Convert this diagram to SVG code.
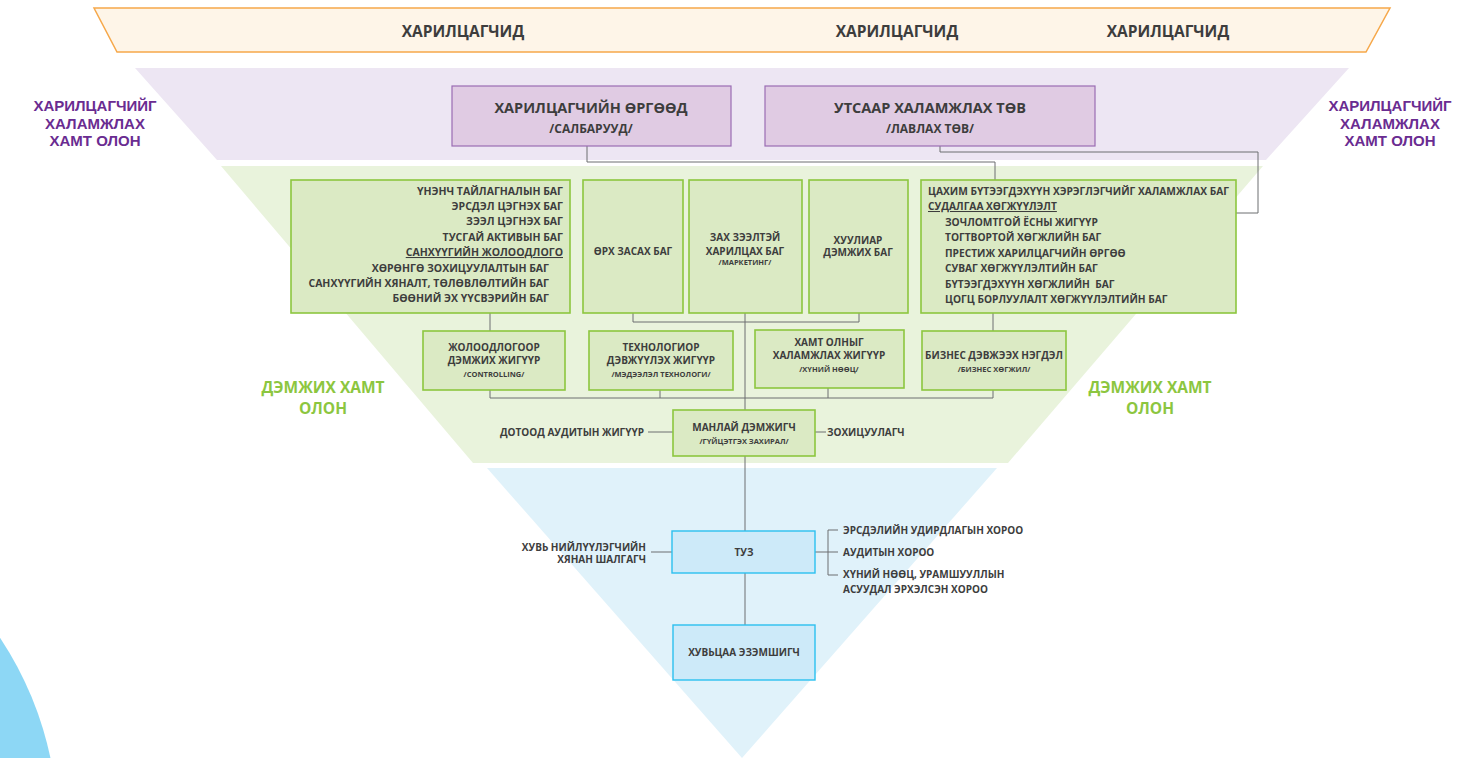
<svg xmlns="http://www.w3.org/2000/svg" width="1465" height="758" viewBox="0 0 1465 758">
<style>
text{font-family:"Open Sans","Liberation Sans",sans-serif;font-weight:700;fill:#3d3d3d}
.t15{font-size:15.5px}
.t13{font-size:14.5px}
.t12{font-size:12px}
.t10{font-size:10px}
.tl{font-size:10.5px}
.tr{font-size:10.2px}
.t8{font-size:7.5px}
.c{text-anchor:middle}
.e{text-anchor:end}
.pl{fill:#6a2c91;font-size:15px;font-family:"Liberation Sans","Open Sans",sans-serif}
.gl{fill:#8cc63f;font-size:15.5px}
.pbox{fill:#e0cbe3;stroke:#9a6db3;stroke-width:1.2}
.gbox{fill:#dbeac4;stroke:#8cc63f;stroke-width:1.6}
.bbox{fill:#cdeaf9;stroke:#2cc0ef;stroke-width:1.4}
.ln{fill:none;stroke:#6d6e71;stroke-width:1}
</style>
<g id="background">
<circle cx="-290" cy="830" r="348" fill="#8dd7f5"/>
<polygon points="94,8 1390,8 1366,52 117,52" fill="#fef5e8" stroke="#f6a84a" stroke-width="1.5"/>
<polygon points="135,68 1349,68 1266,160 217,160" fill="#ede6f3"/>
<polygon points="221,166 1263,166 1008,463 473,463" fill="#e9f3dc"/>
<polygon points="487,468 997,468 742,758" fill="#e0f2fa"/>
</g>
<g id="labels">
<text class="t15 c" x="463" y="37">ХАРИЛЦАГЧИД</text>
<text class="t15 c" x="897" y="37">ХАРИЛЦАГЧИД</text>
<text class="t15 c" x="1168" y="37">ХАРИЛЦАГЧИД</text>
<text class="pl c" x="95" y="111">ХАРИЛЦАГЧИЙГ</text>
<text class="pl c" x="95" y="128.5">ХАЛАМЖЛАХ</text>
<text class="pl c" x="95" y="146">ХАМТ ОЛОН</text>
<text class="pl c" x="1390" y="111">ХАРИЛЦАГЧИЙГ</text>
<text class="pl c" x="1390" y="128.5">ХАЛАМЖЛАХ</text>
<text class="pl c" x="1390" y="146">ХАМТ ОЛОН</text>
<text class="gl c" x="323" y="393">ДЭМЖИХ ХАМТ</text>
<text class="gl c" x="323" y="414">ОЛОН</text>
<text class="gl c" x="1150" y="393">ДЭМЖИХ ХАМТ</text>
<text class="gl c" x="1150" y="414">ОЛОН</text>
</g>
<g id="connectors">
<polyline class="ln" points="587,146 587,162 995,162 995,180"/>
<polyline class="ln" points="940,146 940,152 1258,152 1258,213 1236,213"/>
<line class="ln" x1="490" y1="313" x2="490" y2="331"/>
<line class="ln" x1="993" y1="313" x2="993" y2="331"/>
<polyline class="ln" points="633,313 633,322 859,322 859,313"/>
<line class="ln" x1="745" y1="313" x2="745" y2="410"/>
<polyline class="ln" points="490,390 490,398 993,398 993,390"/>
<line class="ln" x1="660" y1="390" x2="660" y2="398"/>
<line class="ln" x1="828" y1="388" x2="828" y2="398"/>
<line class="ln" x1="648" y1="432" x2="673" y2="432"/>
<line class="ln" x1="815" y1="432" x2="826" y2="432"/>
<line class="ln" x1="745" y1="456" x2="745" y2="531"/>
<line class="ln" x1="745" y1="573" x2="745" y2="625"/>
<line class="ln" x1="651" y1="552" x2="672" y2="552"/>
<line class="ln" x1="815" y1="552" x2="838" y2="552"/>
<polyline class="ln" points="838,530 828,530 828,575 838,575"/>
</g>
<g id="n-orgood">
<rect class="pbox" x="452" y="86" width="279" height="60"/>
<text class="t13 c" x="591" y="113">ХАРИЛЦАГЧИЙН ӨРГӨӨД</text>
<text class="t12 c" x="591" y="133">/САЛБАРУУД/</text>
</g>
<g id="n-utas">
<rect class="pbox" x="765" y="86" width="330" height="60"/>
<text class="t13 c" x="930" y="113">УТСААР ХАЛАМЖЛАХ ТӨВ</text>
<text class="t12 c" x="930" y="133">/ЛАВЛАХ ТӨВ/</text>
</g>
<g id="n-finance">
<rect class="gbox" x="291" y="180" width="279" height="133"/>
<text class="tl e" x="563" y="195">ҮНЭНЧ ТАЙЛАГНАЛЫН БАГ</text>
<text class="tl e" x="563" y="210">ЭРСДЭЛ ЦЭГНЭХ БАГ</text>
<text class="tl e" x="563" y="225">ЗЭЭЛ ЦЭГНЭХ БАГ</text>
<text class="tl e" x="563" y="241">ТУСГАЙ АКТИВЫН БАГ</text>
<text class="tl e" x="563" y="256" text-decoration="underline">САНХҮҮГИЙН ЖОЛООДЛОГО</text>
<text class="tl e" x="549" y="272">ХӨРӨНГӨ ЗОХИЦУУЛАЛТЫН БАГ</text>
<text class="tl e" x="549" y="287">САНХҮҮГИЙН ХЯНАЛТ, ТӨЛӨВЛӨЛТИЙН БАГ</text>
<text class="tl e" x="549" y="302">БӨӨНИЙ ЭХ ҮҮСВЭРИЙН БАГ</text>
</g>
<g id="n-orh">
<rect class="gbox" x="583" y="180" width="100" height="133"/>
<text class="t10 c" x="633" y="255">ӨРХ ЗАСАХ БАГ</text>
</g>
<g id="n-marketing">
<rect class="gbox" x="689" y="180" width="113" height="133"/>
<text class="t10 c" x="745" y="241">ЗАХ ЗЭЭЛТЭЙ</text>
<text class="t10 c" x="745" y="255">ХАРИЛЦАХ БАГ</text>
<text class="t8 c" x="745" y="265">/МАРКЕТИНГ/</text>
</g>
<g id="n-legal">
<rect class="gbox" x="809" y="180" width="99" height="133"/>
<text class="t10 c" x="858" y="244">ХУУЛИАР</text>
<text class="t10 c" x="858" y="256">ДЭМЖИХ БАГ</text>
</g>
<g id="n-digital">
<rect class="gbox" x="921" y="180" width="315" height="133"/>
<text class="tr" x="928" y="195">ЦАХИМ БҮТЭЭГДЭХҮҮН ХЭРЭГЛЭГЧИЙГ ХАЛАМЖЛАХ БАГ</text>
<text class="tr" x="928" y="210" text-decoration="underline">СУДАЛГАА ХӨГЖҮҮЛЭЛТ</text>
<text class="tr" x="945" y="226">ЗОЧЛОМТГОЙ ЁСНЫ ЖИГҮҮР</text>
<text class="tr" x="945" y="241">ТОГТВОРТОЙ ХӨГЖЛИЙН БАГ</text>
<text class="tr" x="945" y="257">ПРЕСТИЖ ХАРИЛЦАГЧИЙН ӨРГӨӨ</text>
<text class="tr" x="945" y="272">СУВАГ ХӨГЖҮҮЛЭЛТИЙН БАГ</text>
<text class="tr" x="945" y="288" xml:space="preserve">БҮТЭЭГДЭХҮҮН ХӨГЖЛИЙН  БАГ</text>
<text class="tr" x="945" y="303">ЦОГЦ БОРЛУУЛАЛТ ХӨГЖҮҮЛЭЛТИЙН БАГ</text>
</g>
<g id="n-controlling">
<rect class="gbox" x="423" y="331" width="142" height="59"/>
<text class="t10 c" x="494" y="351">ЖОЛООДЛОГООР</text>
<text class="t10 c" x="494" y="364">ДЭМЖИХ ЖИГҮҮР</text>
<text class="t8 c" x="494" y="377">/CONTROLLING/</text>
</g>
<g id="n-tech">
<rect class="gbox" x="589" y="331" width="144" height="59"/>
<text class="t10 c" x="661" y="351">ТЕХНОЛОГИОР</text>
<text class="t10 c" x="661" y="364">ДЭВЖҮҮЛЭХ ЖИГҮҮР</text>
<text class="t8 c" x="661" y="377">/МЭДЭЭЛЭЛ ТЕХНОЛОГИ/</text>
</g>
<g id="n-hr">
<rect class="gbox" x="755" y="330" width="149" height="58"/>
<text class="t10 c" x="829" y="346">ХАМТ ОЛНЫГ</text>
<text class="t10 c" x="829" y="359">ХАЛАМЖЛАХ ЖИГҮҮР</text>
<text class="t8 c" x="829" y="372">/ХҮНИЙ НӨӨЦ/</text>
</g>
<g id="n-biz">
<rect class="gbox" x="922" y="331" width="144" height="59"/>
<text class="t10 c" x="994" y="359">БИЗНЕС ДЭВЖЭЭХ НЭГДЭЛ</text>
<text class="t8 c" x="994" y="372">/БИЗНЕС ХӨГЖИЛ/</text>
</g>
<g id="n-ceo">
<rect class="gbox" x="673" y="410" width="142" height="46"/>
<text class="t10 c" x="744" y="431">МАНЛАЙ ДЭМЖИГЧ</text>
<text class="t8 c" x="744" y="444">/ГҮЙЦЭТГЭХ ЗАХИРАЛ/</text>
</g>
<g id="n-audit-int">
<text class="t10 e" x="644" y="436">ДОТООД АУДИТЫН ЖИГҮҮР</text>
</g>
<g id="n-regulator">
<text class="t10" x="827" y="436">ЗОХИЦУУЛАГЧ</text>
</g>
<g id="n-board">
<rect class="bbox" x="672" y="531" width="143" height="42"/>
<text class="t10 c" x="744" y="556">ТУЗ</text>
</g>
<g id="n-auditor">
<text class="t10 e" x="646" y="551">ХУВЬ НИЙЛҮҮЛЭГЧИЙН</text>
<text class="t10 e" x="646" y="563">ХЯНАН ШАЛГАГЧ</text>
</g>
<g id="n-committees">
<text class="t10" x="843" y="534">ЭРСДЭЛИЙН УДИРДЛАГЫН ХОРОО</text>
<text class="t10" x="843" y="556">АУДИТЫН ХОРОО</text>
<text class="t10" x="843" y="578">ХҮНИЙ НӨӨЦ, УРАМШУУЛЛЫН</text>
<text class="t10" x="843" y="593">АСУУДАЛ ЭРХЭЛСЭН ХОРОО</text>
</g>
<g id="n-shareholder">
<rect class="bbox" x="673" y="625" width="142" height="55"/>
<text class="t10 c" x="744" y="656">ХУВЬЦАА ЭЗЭМШИГЧ</text>
</g>
</svg>
